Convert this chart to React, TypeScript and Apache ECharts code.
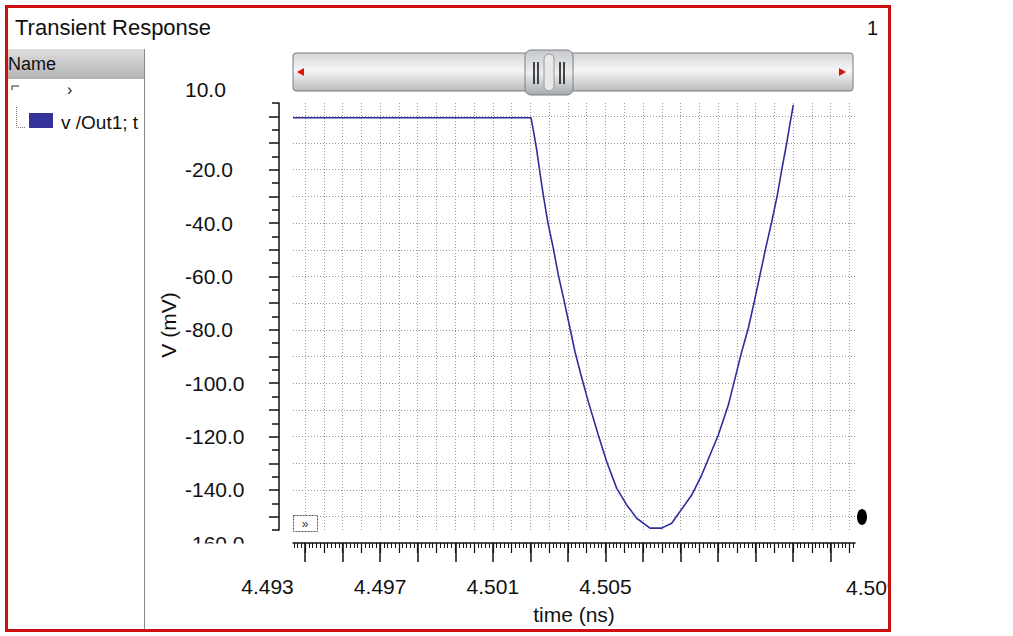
import React, { useEffect, useRef } from 'react';
import * as echarts from 'echarts';

// ---- data (time in ns, voltage in mV) ----
const TIME_NS = [
  4.493905, 4.502357, 4.502438, 4.502559, 4.502676, 4.502793, 4.50295, 4.503148,
  4.503326, 4.503539, 4.503741, 4.503919, 4.504132, 4.504391, 4.504746, 4.505045,
  4.5054, 4.505755, 4.50611, 4.506582, 4.506998, 4.507353, 4.507648, 4.508063,
  4.508418, 4.508713, 4.509008, 4.509364, 4.509719, 4.509839, 4.510073, 4.510286,
  4.510489, 4.510691, 4.510905, 4.511104, 4.511259, 4.511413, 4.511555, 4.511672,
];
const V_MV = [
  -0.5, -0.5, -5.1, -12.6, -21.3, -29.5, -39.5, -49.4,
  -59.4, -69.4, -79.4, -88.2, -96.9, -106.9, -119.4, -129.4,
  -139.4, -145.6, -150.6, -154.3, -154.3, -152.5, -148.1, -141.9,
  -134.4, -126.9, -119.4, -108.2, -93.2, -88.2, -79.4, -69.4,
  -59.4, -49.4, -39.5, -29.5, -20.1, -11.4, -2.6, 4.3,
];
const SERIES_NAME = 'v /Out1; t';

const X_MIN = 4.493905;
const X_MAX = 4.513862;
const X_TICK_ORIGIN = 4.493;
const X_MAJOR_STEP = 0.004 / 3;
const X_LABEL_VALUES = [4.493, 4.497, 4.501, 4.505];
const X_LABEL_AXIS_MAX = 4.505;
const X_CLIPPED_LABEL = '4.509';

const Y_MIN = -155;
const Y_MAX = 5;
const Y_MAJOR_TICKS = [0, -10, -20, -30, -40, -50, -60, -70, -80, -90, -100, -110, -120, -130, -140, -150];
const Y_MINOR_TICKS = [5, -5, -15, -25, -35, -45, -55, -65, -75, -85, -95, -105, -115, -125, -135, -145, -155];
const Y_LABEL_VALUES = [10, -20, -40, -60, -80, -100, -120, -140, -160];
const Y_LABEL_MIN = -160;
const Y_LABEL_MAX = 10;

const FONT = '"Liberation Sans", Arial, sans-serif';

function ticksFrom(origin: number, step: number, min: number, max: number) {
  const out: number[] = [];
  let k = Math.ceil((min - origin) / step - 1e-6);
  while (origin + k * step <= max + 1e-9) {
    out.push(+(origin + k * step).toFixed(9));
    k++;
  }
  return out;
}

export default function App() {
  const ref = useRef<HTMLDivElement>(null);

  useEffect(() => {
    if (!ref.current) return;
    const chart = echarts.init(ref.current, undefined, { renderer: 'svg' });

    const xMajor = ticksFrom(X_TICK_ORIGIN, X_MAJOR_STEP, X_MIN, X_MAX);
    const xHalf = ticksFrom(X_TICK_ORIGIN, X_MAJOR_STEP / 2, X_MIN, X_MAX);
    const xTenth = ticksFrom(X_TICK_ORIGIN, X_MAJOR_STEP / 10, X_MIN, X_MAX);

    const gridLine = { show: true, lineStyle: { color: '#9a9a9a', width: 1, type: [1, 2] as any } };
    const plot = { left: 293, top: 103, width: 562, height: 427 };
    const pxPerNs = 112.65 / 0.004;
    const pxPerMv = 427 / (Y_MAX - Y_MIN);

    const sliderGrad = new echarts.graphic.LinearGradient(0, 0, 0, 1, [
      { offset: 0, color: '#d4d4d4' },
      { offset: 0.45, color: '#f6f6f6' },
      { offset: 1, color: '#bcbcbc' },
    ]);
    const thumbGrad = new echarts.graphic.LinearGradient(0, 0, 0, 1, [
      { offset: 0, color: '#c4c8cc' },
      { offset: 0.5, color: '#eceef0' },
      { offset: 1, color: '#a6aaae' },
    ]);
    const headerGrad = new echarts.graphic.LinearGradient(0, 0, 0, 1, [
      { offset: 0, color: '#dedede' },
      { offset: 1, color: '#b2b2b2' },
    ]);

    chart.setOption({
      animation: false,
      backgroundColor: '#ffffff',
      grid: [
        { ...plot },
        { left: 267.5, top: 103, width: (X_LABEL_AXIS_MAX - X_TICK_ORIGIN) * pxPerNs, height: 427 },
        {
          left: 279,
          top: 103 + (Y_MAX - Y_LABEL_MAX) * pxPerMv,
          width: 576,
          height: (Y_LABEL_MAX - Y_LABEL_MIN) * pxPerMv,
        },
      ],
      xAxis: [
        {
          type: 'value', gridIndex: 0, min: X_MIN, max: X_MAX, position: 'bottom', offset: 13,
          axisLine: { show: true, onZero: false, lineStyle: { color: '#111', width: 1.5 } },
          axisTick: { show: true, customValues: xMajor, length: 19, lineStyle: { color: '#111', width: 1.5 } },
          axisLabel: { show: false }, splitLine: { show: false },
          name: 'time (ns)', nameLocation: 'middle', nameGap: 61,
          nameTextStyle: { fontFamily: FONT, fontSize: 21, color: '#111' },
        },
        {
          type: 'value', gridIndex: 0, min: X_MIN, max: X_MAX, position: 'bottom', offset: 13,
          axisLine: { show: false, onZero: false },
          axisTick: { show: true, customValues: xHalf, length: 10, lineStyle: { color: '#111', width: 1.2 } },
          axisLabel: { show: false }, splitLine: gridLine,
        },
        {
          type: 'value', gridIndex: 0, min: X_MIN, max: X_MAX, position: 'bottom', offset: 13,
          axisLine: { show: false, onZero: false },
          axisTick: { show: true, customValues: xTenth, length: 5, lineStyle: { color: '#111', width: 1 } },
          axisLabel: { show: false }, splitLine: { show: false },
        },
        {
          type: 'value', gridIndex: 1, min: X_TICK_ORIGIN, max: X_LABEL_AXIS_MAX, position: 'bottom', offset: 13,
          axisLine: { show: false, onZero: false }, axisTick: { show: false }, splitLine: { show: false },
          axisLabel: {
            show: true, customValues: X_LABEL_VALUES, margin: 33,
            formatter: (v: number) => v.toFixed(3),
            fontFamily: FONT, fontSize: 21, color: '#111',
          },
        },
        {
          type: 'value', gridIndex: 2, min: 0, max: 1, show: false,
          axisLine: { onZero: false },
        },
      ],
      yAxis: [
        {
          type: 'value', gridIndex: 0, min: Y_MIN, max: Y_MAX, position: 'left', offset: 14,
          axisLine: { show: true, onZero: false, lineStyle: { color: '#111', width: 1.5 } },
          axisTick: { show: true, customValues: Y_MAJOR_TICKS, length: 10, lineStyle: { color: '#111', width: 1.5 } },
          axisLabel: { show: false }, splitLine: gridLine,
        },
        {
          type: 'value', gridIndex: 0, min: Y_MIN, max: Y_MAX, position: 'left', offset: 14,
          axisLine: { show: false, onZero: false },
          axisTick: { show: true, customValues: Y_MINOR_TICKS, length: 7, lineStyle: { color: '#111', width: 1.5 } },
          axisLabel: { show: false }, splitLine: { show: false },
        },
        {
          type: 'value', gridIndex: 2, min: Y_LABEL_MIN, max: Y_LABEL_MAX, position: 'left',
          axisLine: { show: false, onZero: false }, axisTick: { show: false }, splitLine: { show: false },
          axisLabel: {
            show: true, customValues: Y_LABEL_VALUES, margin: 94, align: 'left',
            formatter: (v: number) => v.toFixed(1),
            fontFamily: FONT, fontSize: 21, color: '#111',
          },
        },
        {
          type: 'value', gridIndex: 1, min: 0, max: 1, show: false,
          axisLine: { onZero: false },
        },
      ],
      series: [
        {
          name: SERIES_NAME,
          type: 'line',
          xAxisIndex: 0,
          yAxisIndex: 0,
          showSymbol: false,
          data: TIME_NS.map((t, i) => [t, V_MV[i]]),
          lineStyle: { color: '#2e2e9e', width: 1.6 },
          itemStyle: { color: '#2e2e9e' },
        },
      ],
      graphic: [
        // title and page number
        { type: 'text', left: 15, top: 16, style: { text: 'Transient Response', font: `22px ${FONT}`, fill: '#111' } },
        { type: 'text', left: 867, top: 18, style: { text: '1', font: `20px ${FONT}`, fill: '#111' } },
        // left panel
        { type: 'rect', shape: { x: 8, y: 49, width: 136, height: 30 }, style: { fill: headerGrad } },
        { type: 'text', x: 8, y: 64, style: { text: 'Name', font: `18px ${FONT}`, fill: '#111', verticalAlign: 'middle' } },
        { type: 'line', shape: { x1: 144.5, y1: 49, x2: 144.5, y2: 631 }, style: { stroke: '#8a8a8a', lineWidth: 1 } },
        { type: 'polyline', shape: { points: [[12, 90], [12, 86], [19, 86]] }, style: { stroke: '#222', lineWidth: 1, fill: 'none' } },
        { type: 'text', x: 67, y: 89, style: { text: '›', font: `16px ${FONT}`, fill: '#222', verticalAlign: 'middle' } },
        { type: 'polyline', shape: { points: [[16.5, 107], [16.5, 127.5], [25, 127.5]] }, style: { stroke: '#777', lineWidth: 1, lineDash: [1, 1], fill: 'none' } },
        { type: 'rect', shape: { x: 29, y: 113, width: 24, height: 15 }, style: { fill: '#333399' } },
        { type: 'text', x: 61, y: 122, style: { text: SERIES_NAME, font: `19px ${FONT}`, fill: '#111', verticalAlign: 'middle' } },
        // slider
        { type: 'rect', shape: { x: 293, y: 53, width: 560, height: 38, r: 3 }, style: { fill: sliderGrad, stroke: '#7a7a7a', lineWidth: 1 } },
        { type: 'polygon', shape: { points: [[297, 72], [304, 68], [304, 76]] }, style: { fill: '#dd1111' } },
        { type: 'polygon', shape: { points: [[846, 72], [839, 68], [839, 76]] }, style: { fill: '#dd1111' } },
        { type: 'rect', shape: { x: 525, y: 50, width: 48, height: 45, r: 6 }, style: { fill: thumbGrad, stroke: '#7c7c7c', lineWidth: 1 } },
        { type: 'rect', shape: { x: 544, y: 54, width: 10, height: 37, r: 5 }, style: { fill: '#e8e8e8', stroke: '#9a9a9a', lineWidth: 1 } },
        { type: 'line', shape: { x1: 534, y1: 62, x2: 534, y2: 84 }, style: { stroke: '#111', lineWidth: 1.5 } },
        { type: 'line', shape: { x1: 538, y1: 62, x2: 538, y2: 84 }, style: { stroke: '#111', lineWidth: 1.5 } },
        { type: 'line', shape: { x1: 560, y1: 62, x2: 560, y2: 84 }, style: { stroke: '#111', lineWidth: 1.5 } },
        { type: 'line', shape: { x1: 564, y1: 62, x2: 564, y2: 84 }, style: { stroke: '#111', lineWidth: 1.5 } },
        // y axis title
        { type: 'text', x: 168, y: 325, rotation: Math.PI / 2, style: { text: 'V (mV)', font: `21px ${FONT}`, fill: '#111', align: 'center', verticalAlign: 'middle' } },
        // small icon and marker
        { type: 'rect', z: 50, shape: { x: 293.5, y: 515.5, width: 24, height: 16 }, style: { fill: '#fff', stroke: '#555', lineWidth: 1, lineDash: [2, 1] } },
        { type: 'text', z: 51, x: 305, y: 523.5, style: { text: '»', font: `12px ${FONT}`, fill: '#333', align: 'center', verticalAlign: 'middle' } },
        { type: 'ellipse', shape: { cx: 862, cy: 517, rx: 5, ry: 8 }, style: { fill: '#000' } },
        // clipped right label
        { type: 'text', x: 846, y: 587, style: { text: X_CLIPPED_LABEL, font: `21px ${FONT}`, fill: '#111', verticalAlign: 'middle' } },
        // covers (clip)
        { type: 'rect', z: 90, shape: { x: 175, y: 543.5, width: 90, height: 20 }, style: { fill: '#fff' } },
        { type: 'rect', z: 90, shape: { x: 889, y: 0, width: 124, height: 636 }, style: { fill: '#fff' } },
        // frame
        { type: 'rect', z: 100, shape: { x: 6.5, y: 6.5, width: 883, height: 624 }, style: { fill: 'none', stroke: '#cc1111', lineWidth: 3 } },
      ],
    });

    return () => chart.dispose();
  }, []);

  return (
    <div
      ref={ref}
      style={{ position: 'fixed', left: 0, top: 0, width: 1013, height: 636 }}
    />
  );
}
